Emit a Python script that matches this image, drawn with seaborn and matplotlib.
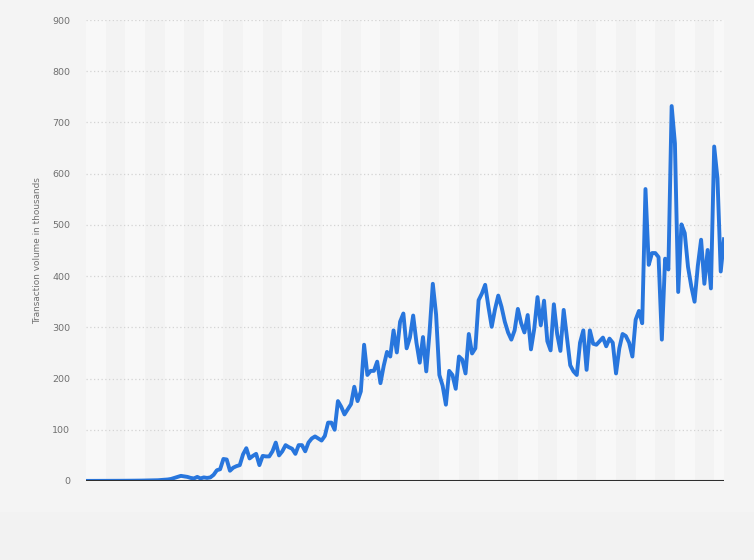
import matplotlib
matplotlib.use("Agg")
import matplotlib.pyplot as plt
from matplotlib.patches import Rectangle
import seaborn as sns
import pandas as pd

# Month index (0 = first month shown) and transaction volume in thousands
volume = [
    0.2, 0.2, 0.2, 0.2, 0.3, 0.3, 0.3, 0.3, 0.4, 0.4,
    0.4, 0.5, 0.5, 0.5, 0.6, 0.6, 0.7, 0.8, 0.9, 1,
    1, 1, 1.5, 2, 2.5, 3, 4, 6, 8, 10,
    9, 8, 6, 5, 8, 5, 7, 6, 7, 12,
    21, 23, 43, 42, 20, 26, 29, 31, 52, 64,
    44, 49, 53, 31, 49, 48, 48, 58, 75, 50,
    58, 70, 66, 63, 53, 70, 70, 58, 75, 83,
    87, 83, 79, 88, 114, 114, 100, 156, 145, 130,
    140, 150, 184, 156, 175, 266, 207, 215, 215, 233,
    191, 225, 252, 243, 294, 251, 311, 327, 259, 280,
    323, 270, 231, 281, 214, 290, 385, 325, 207, 186,
    149, 215, 207, 180, 243, 237, 210, 287, 249, 259,
    353, 366, 383, 340, 301, 335, 362, 340, 311, 290,
    276, 294, 336, 308, 290, 324, 257, 297, 359, 304,
    352, 273, 255, 345, 287, 254, 334, 280, 226, 214,
    207, 270, 294, 217, 294, 268, 266, 273, 280, 263,
    278, 270, 210, 259, 287, 283, 270, 243, 315, 332,
    308, 570, 422, 445, 445, 437, 276, 434, 413, 732,
    659, 369, 501, 484, 418, 380, 350, 420, 471, 385,
    451, 376, 653, 591, 409, 472,
]
months = list(range(len(volume)))
y_ticks = [0, 100, 200, 300, 400, 500, 600, 700, 800, 900]
y_label = "Transaction volume in thousands"

df = pd.DataFrame({"month": months, "volume": volume})

fig = plt.figure(figsize=(7.54, 5.60), dpi=100, facecolor="#f2f2f2")
fig.patches.append(Rectangle((0, 48 / 560), 1, 1 - 48 / 560, transform=fig.transFigure,
                             facecolor="#f4f4f4", edgecolor="none", zorder=-10))
ax = fig.add_axes([86 / 754, 1 - 481 / 560, (724 - 86) / 754, (481 - 20) / 560])
ax.set_facecolor("#f3f3f3")

# alternating vertical bands (half-year)
band = 6
start = 0
while start < months[-1]:
    ax.axvspan(start, min(start + band, months[-1]), color="#f8f8f8", lw=0, zorder=0)
    start += 2 * band

for t in y_ticks[1:]:
    ax.axhline(t, color="#d4d4d4", lw=0.9, ls=(0, (1, 2)), zorder=1)

sns.lineplot(data=df, x="month", y="volume", ax=ax, color="#2876dd",
             lw=2.8, zorder=3, solid_joinstyle="round")

ax.axhline(0, color="#2e2e2e", lw=1.5, zorder=4)

ax.set_xlim(months[0], months[-1])
ax.set_ylim(0, 900)
ax.set_yticks(y_ticks)
ax.set_yticklabels([str(t) for t in y_ticks], color="#707070", fontsize=6.8)
ax.tick_params(axis="y", length=0, pad=11.5)
ax.set_xticks([])
ax.set_xlabel("")
ax.set_ylabel(y_label, color="#707070", fontsize=6.4, labelpad=7)
for s in ax.spines.values():
    s.set_visible(False)

fig.savefig("out.png", dpi=100, facecolor=fig.get_facecolor())
